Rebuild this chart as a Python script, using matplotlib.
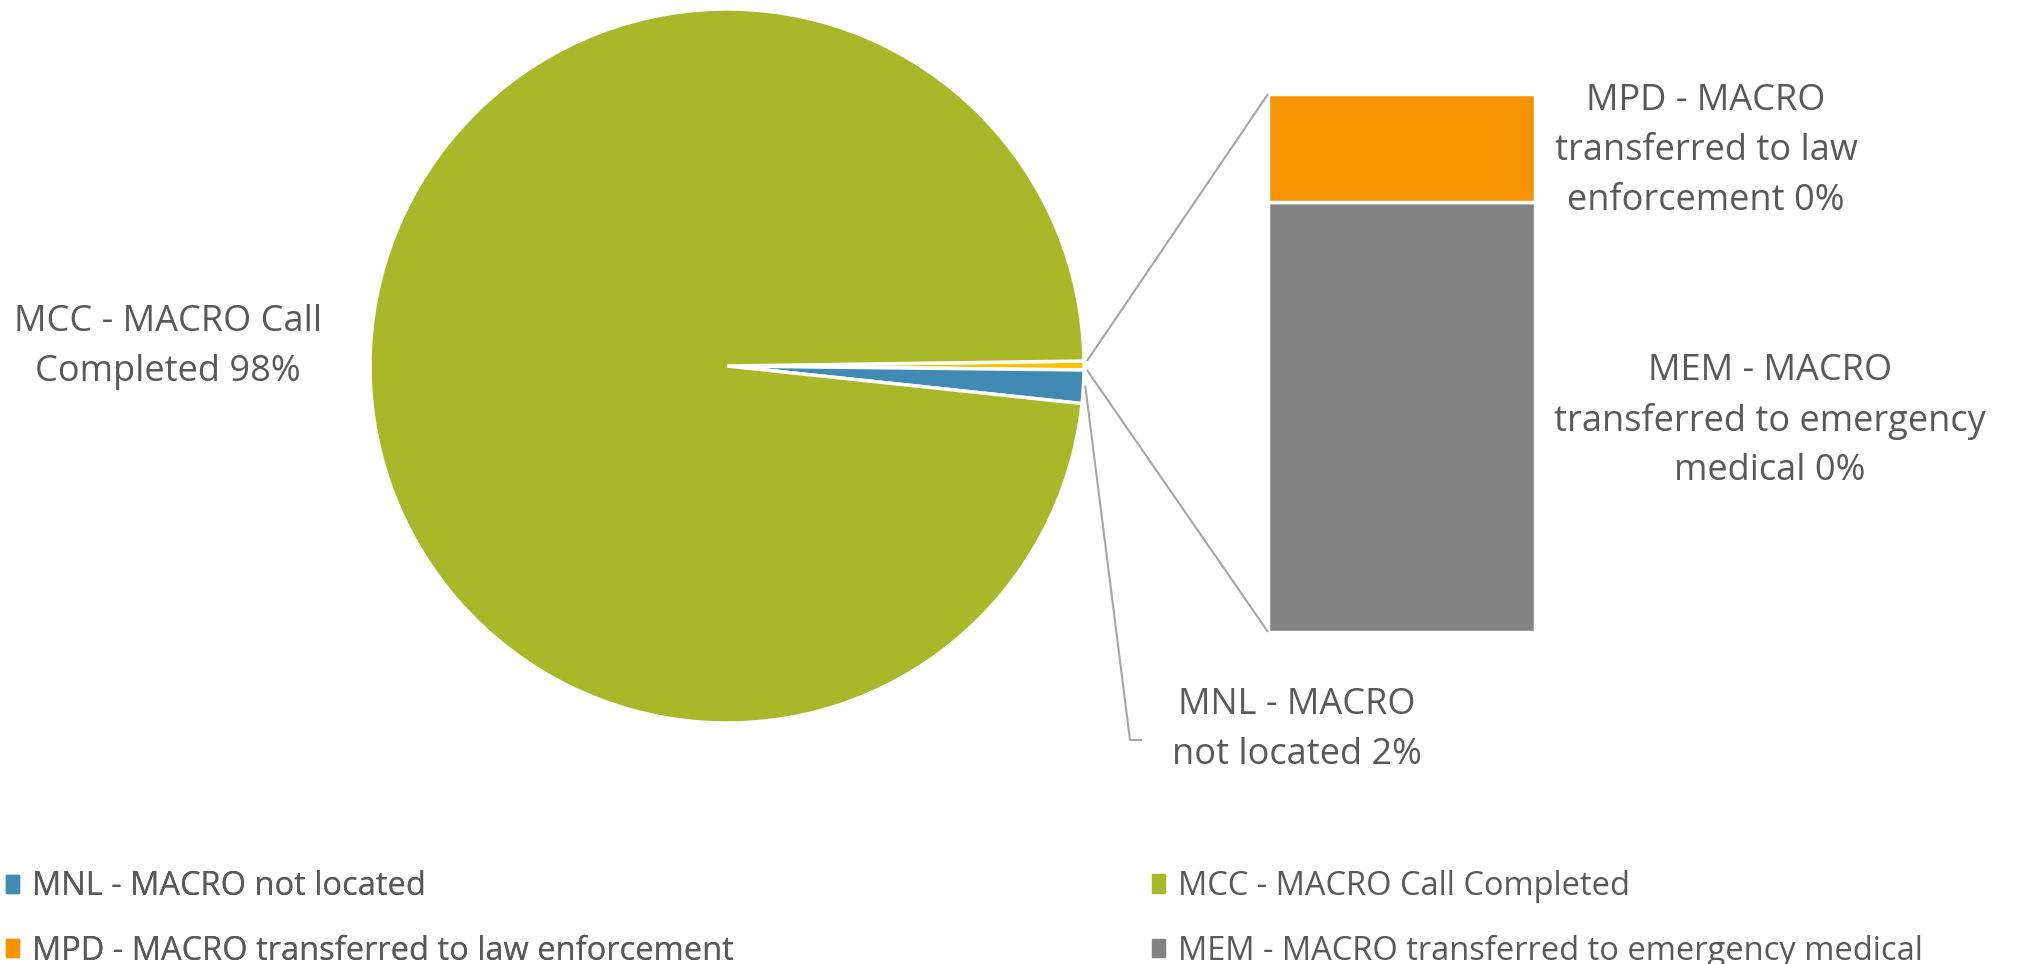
import numpy as np
import matplotlib
matplotlib.use("Agg")
import matplotlib.pyplot as plt
from matplotlib.patches import Patch

# data (percent of calls)
pie_labels = ["MPD/MEM other", "MNL - MACRO not located", "MCC - MACRO Call Completed"]
bar_labels = ["MEM - MACRO transferred to emergency medical", "MPD - MACRO transferred to law enforcement"]
mcc_val = 98.1
mnl_val = 1.5
mem_val = 0.32
mpd_val = 0.08

# label texts as shown in the chart
label_mcc = "MCC - MACRO Call\nCompleted"
label_mnl = "MNL - MACRO\nnot located"
label_mpd = "MPD - MACRO\ntransferred to law\nenforcement"
label_mem = "MEM - MACRO\ntransferred to emergency\nmedical"

c_mcc = "#A7B829"
c_mnl = "#418AB3"
c_other = "#FFC000"
c_mpd = "#F59300"
c_mem = "#838383"
txt = "#595959"
line_c = "#A6A6A6"

plt.rcParams["font.family"] = ["Open Sans", "DejaVu Sans"]

W, H = 2019, 964
fig = plt.figure(figsize=(W / 100, H / 100), dpi=100)
ax = fig.add_axes([0, 0, 1, 1])


def Y(py):
    return H - py


other_val = mpd_val + mem_val
cx, cy, r = 727, Y(366), 357
start = 0.8
wedges, _ = ax.pie([other_val, mnl_val, mcc_val], colors=[c_other, c_mnl, c_mcc],
                   startangle=start, counterclock=False, center=(cx, cy), radius=r,
                   wedgeprops=dict(edgecolor="white", linewidth=2.5))

# stacked bar for the "other" slice
bar_top, bar_bot = 94, 632
bar_x0, bar_x1 = 1268, 1535
scale = (bar_bot - bar_top) / other_val
bottoms = [Y(bar_bot), Y(bar_bot) + mem_val * scale]
ax.bar((bar_x0 + bar_x1) / 2, [mem_val * scale, mpd_val * scale], bottom=bottoms,
       width=bar_x1 - bar_x0, color=[c_mem, c_mpd], edgecolor="white", linewidth=2.5)

# connector lines from the other slice to the bar
w = wedges[0]
for ang, by in [(w.theta2, Y(bar_top)), (w.theta1, Y(bar_bot))]:
    a = np.deg2rad(ang)
    ax.plot([cx + (r + 3) * np.cos(a), bar_x0], [cy + (r + 3) * np.sin(a), by],
            color=line_c, lw=1.5, solid_capstyle="butt")

# leader for MNL
wm = wedges[1]
am = np.deg2rad((wm.theta1 + wm.theta2) / 2)
ax.plot([cx + (r + 2) * np.cos(am), 1130, 1141],
        [cy + (r + 2) * np.sin(am), Y(740), Y(740)], color=line_c, lw=1.5)

fs = 26
ls = 1.5
ax.text(168, Y(347), f"{label_mcc} {round(mcc_val)}%", ha="center", va="center",
        fontsize=fs, color=txt, linespacing=ls)
ax.text(1297, Y(730), f"{label_mnl} {round(mnl_val)}%", ha="center", va="center",
        fontsize=fs, color=txt, linespacing=ls)
ax.text(1706, Y(151), f"{label_mpd} {round(mpd_val)}%", ha="center", va="center",
        fontsize=fs, color=txt, linespacing=ls)
ax.text(1770, Y(421), f"{label_mem} {round(mem_val)}%", ha="center", va="center",
        fontsize=fs, color=txt, linespacing=ls)

ax.set_xlim(0, W)
ax.set_ylim(0, H)
ax.set_aspect("equal")
ax.axis("off")

# legend, two columns
lfs = 23.5
col1 = [Patch(color=c_mnl, label="MNL - MACRO not located"),
        Patch(color=c_mpd, label=bar_labels[1])]
col2 = [Patch(color=c_mcc, label=pie_labels[2]),
        Patch(color=c_mem, label=bar_labels[0])]
common = dict(frameon=False, fontsize=lfs, labelcolor=txt, handlelength=0.4,
              handleheight=0.5, handletextpad=0.4, labelspacing=0.95,
              borderpad=0, borderaxespad=0, loc="center left")
leg1 = fig.legend(handles=col1, bbox_to_anchor=(6 / W, 1 - 919 / H), **common)
fig.add_artist(leg1)
fig.legend(handles=col2, bbox_to_anchor=(1152 / W, 1 - 919 / H), **common)

fig.savefig("out.png", dpi=100)
